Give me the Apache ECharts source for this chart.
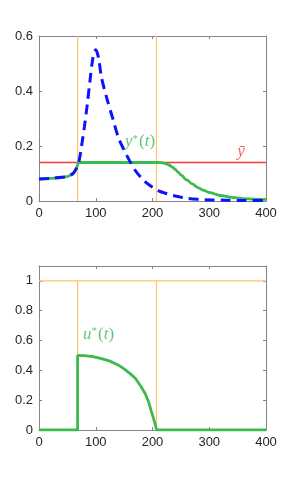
<!DOCTYPE html>
<html><head><meta charset="utf-8">
<script src="https://cdn.jsdelivr.net/npm/echarts@6/dist/echarts.min.js"></script>
<style>html,body{margin:0;padding:0;background:#fff}#c{width:294px;height:484px}</style>
</head><body><div id="c"></div>
<script>
// ---- data ----
const xTicks = [0, 100, 200, 300, 400];
const switchTimes = [68, 207];
const yBar = 0.14;
const uMax = 1;

const tBlue = [0,20,40,50,60,65,70,75,80,85,90,95,100,105,110,120,130,140,150,160,170,180,190,200,210,220,240,260,280,300,330,360,400];
const yBlue = [0.080,0.082,0.086,0.089,0.100,0.115,0.140,0.20,0.27,0.35,0.44,0.52,0.55,0.52,0.45,0.37,0.30,0.23,0.185,0.145,0.11,0.085,0.065,0.05,0.038,0.03,0.018,0.01,0.006,0.004,0.003,0.002,0.002];

const tGreen = [0,20,40,50,60,65,70,100,150,200,210,215,220,225,230,235,240,245,250,260,270,280,290,300,320,340,360,380,400];
const yGreen = [0.080,0.082,0.086,0.089,0.100,0.115,0.140,0.140,0.140,0.140,0.140,0.1395,0.138,0.135,0.130,0.123,0.115,0.105,0.095,0.077,0.062,0.049,0.039,0.031,0.020,0.013,0.009,0.007,0.006];

const tU = [0,68,68,80,95,110,125,140,150,160,170,180,187,193,198,202,205,207,250,300,400];
const uVals = [0,0,0.5,0.499,0.492,0.479,0.462,0.435,0.41,0.38,0.345,0.29,0.245,0.19,0.125,0.075,0.035,0,0,0,0];

const labelY = {x: 178, y: 0.215};
const labelYbar = {x: 356, y: 0.18};
const labelU = {x: 105, y: 0.643};

// ---- build ----
const zip = (a, b) => a.map((v, i) => [v, b[i]]);
const AX = '#858585';
const TXT = '#262626';
const FONT = 'Liberation Sans, Arial, sans-serif';
const SERIF = 'Liberation Serif, DejaVu Serif, serif';

function xAx(gi, pos, lab) {
  return {type:'value', gridIndex:gi, position:pos, min:0, max:400, interval:100,
    axisLine:{show:true, onZero:false, lineStyle:{color:AX, width:1}},
    axisTick:{show:true, inside:true, length:3, lineStyle:{color:AX}},
    axisLabel:{show:lab, color:TXT, fontSize:13, fontFamily:FONT, margin:6},
    splitLine:{show:false}};
}
function yAx(gi, pos, lab, max, showMax) {
  return {type:'value', gridIndex:gi, position:pos, min:0, max:max, interval:0.2,
    axisLine:{show:true, onZero:false, lineStyle:{color:AX, width:1}},
    axisTick:{show:true, inside:true, length:3, lineStyle:{color:AX}},
    axisLabel:{show:lab, color:TXT, fontSize:13, fontFamily:FONT, margin:6, showMaxLabel:showMax},
    splitLine:{show:false}};
}
function rich(color) {
  return {
    i:{fontFamily:SERIF, fontStyle:'italic', fontSize:17, color:color},
    s:{fontFamily:SERIF, fontSize:11, color:color, verticalAlign:'top', padding:[0,1,6,0]},
    p:{fontFamily:SERIF, fontSize:17, color:color}
  };
}
function textSeries(xi, yi, pt, fmt, color) {
  return {type:'scatter', xAxisIndex:xi, yAxisIndex:yi, data:[[pt.x, pt.y]], symbol:'circle', symbolSize:1,
    itemStyle:{color:'rgba(0,0,0,0)'}, silent:true, z:10,
    label:{show:true, position:'inside', formatter:fmt, color:color, rich:rich(color)},
    emphasis:{disabled:true}};
}
const ORANGE = '#ffc36b';
const GREEN = '#3cba4c';
const RED = '#f23a3a';
const BLUE = '#0a14ff';

const series = [];
// top chart
switchTimes.forEach(ts => series.push({type:'line', xAxisIndex:0, yAxisIndex:0, data:[[ts,0],[ts,0.6]], symbol:'none', lineStyle:{color:ORANGE, width:1.2}, z:1}));
series.push({type:'line', xAxisIndex:0, yAxisIndex:0, data:[[0,yBar],[400,yBar]], symbol:'none', lineStyle:{color:RED, width:1.6}, z:2});
series.push({type:'line', xAxisIndex:0, yAxisIndex:0, data:zip(tGreen, yGreen), symbol:'none', smooth:0.3, smoothMonotone:'x', lineStyle:{color:GREEN, width:2.8}, z:3});
series.push({type:'line', xAxisIndex:0, yAxisIndex:0, data:zip(tBlue, yBlue), symbol:'none', smooth:0.3, lineStyle:{color:BLUE, width:3, type:[10,6]}, z:4});
series.push(textSeries(0, 0, labelY, '{i|y}{s|*}{p|(}{i|t}{p|)}', GREEN));
series.push(textSeries(0, 0, labelYbar, '{i|ȳ}', RED));
// bottom chart
series.push({type:'line', xAxisIndex:2, yAxisIndex:2, data:[[0,uMax],[400,uMax]], symbol:'none', lineStyle:{color:ORANGE, width:1.2}, z:1});
switchTimes.forEach(ts => series.push({type:'line', xAxisIndex:2, yAxisIndex:2, data:[[ts,0],[ts,uMax]], symbol:'none', lineStyle:{color:ORANGE, width:1.2}, z:1}));
series.push({type:'line', xAxisIndex:2, yAxisIndex:2, data:zip(tU, uVals), symbol:'none', lineStyle:{color:GREEN, width:2.8}, z:3});
series.push(textSeries(2, 2, labelU, '{i|u}{s|*}{p|(}{i|t}{p|)}', GREEN));

const option = {
  animation:false,
  backgroundColor:'#fff',
  grid:[{left:39, right:28, top:36, height:165}, {left:39, right:28, top:266, height:164}],
  xAxis:[xAx(0,'bottom',true), xAx(0,'top',false), xAx(1,'bottom',true), xAx(1,'top',false)],
  yAxis:[yAx(0,'left',true,0.6,true), yAx(0,'right',false,0.6,true), yAx(1,'left',true,1.1,false), yAx(1,'right',false,1.1,false)],
  series: series
};
const chart = echarts.init(document.getElementById('c'), null, {renderer:'canvas'});
chart.setOption(option);
</script></body></html>
